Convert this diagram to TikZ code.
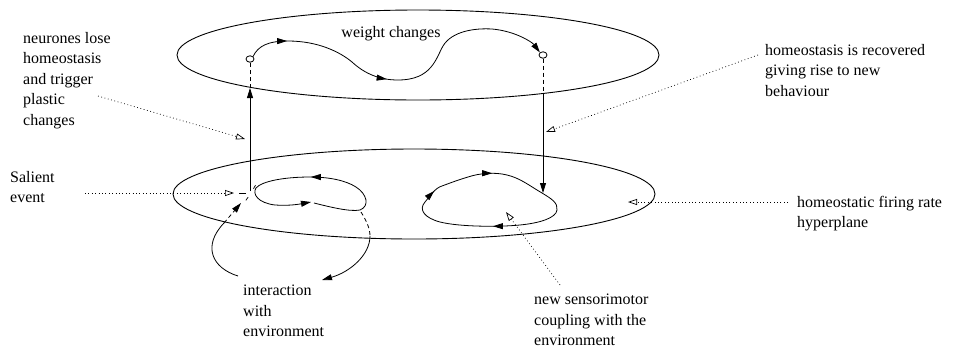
\documentclass[tikz,border=0pt]{standalone}
\usepackage{fontspec}
\setmainfont{Liberation Serif}
\usetikzlibrary{arrows.meta,positioning,decorations.markings,shapes.geometric}
\newcommand{\tipmark}{\arrow{Triangle[length=10pt,width=6pt]}}
\tikzset{
  plane/.style={draw, ellipse, line width=0.9pt, inner sep=0pt},
  flowarr/.style={-{Triangle[length=10pt,width=6pt]}, line width=0.8pt},
  hidden/.style={line width=0.8pt, dash pattern=on 4pt off 3pt},
  ptr/.style={-{Triangle[open,length=9pt,width=6pt]}, line width=0.7pt, dash pattern=on 0.8pt off 2.6pt},
  lbl/.style={font=\fontsize{16}{20.5}\selectfont, align=left, anchor=north west, inner sep=0pt},
  unit/.style={draw, ellipse, minimum width=8pt, minimum height=6.5pt, inner sep=0pt, line width=0.8pt},
}
\begin{document}
\begin{tikzpicture}[x=1pt, y=-1pt]
  \useasboundingbox (0,0) rectangle (956,349);
  % the two planes
  \node[plane, minimum width=482pt, minimum height=90pt] (upperplane) at (418,55) {};
  \node[plane, minimum width=482pt, minimum height=90pt] (lowerplane) at (414,194) {};
  \node[unit] (c1) at (250,59) {};
  \node[unit] (c2) at (543,55) {};

  % weight change trajectory
  \draw[flowarr, postaction={decorate}, decoration={markings,
      mark=at position 0.12 with {\tipmark}, mark=at position 0.45 with {\tipmark}}]
    (c1.north east) .. controls (258,46) and (268,41) .. (288,41)
    .. controls (318,41) and (340,52) .. (352,62)
    .. controls (365,74) and (380,80) .. (398,80)
    .. controls (432,80) and (436,58) .. (443,46)
    .. controls (452,31) and (475,28) .. (492,29)
    .. controls (515,31) and (532,42) .. (c2.north west);

  % vertical transitions
  \coordinate (lowL) at (250,191);
  \coordinate (upL) at (250,88);
  \coordinate (upR) at (543,93);
  \coordinate (lowR) at (543,193);
  \draw[flowarr] (lowL) -- (upL);
  \draw[hidden] (upL) -- (c1.south);
  \draw[hidden] (c2.south) -- (upR);
  \draw[flowarr] (upR) -- (lowR);

  % salient event burst
  \foreach \a/\r in {180/12, 125/9, -60/9}
    \draw[line width=0.7pt] (251,193) ++(\a:5) -- ++(\a:\r-5);

  % old coupling loop
  \draw[flowarr, postaction={decorate}, decoration={markings,
      mark=at position 0.5 with {\tipmark}}]
    (314,203) .. controls (330,207) and (350,212) .. (360,210)
    .. controls (370,206) and (367,194) .. (356,187)
    .. controls (345,180) and (328,177) .. (310,177)
    .. controls (285,177) and (262,181) .. (256,188)
    .. controls (252,194) and (258,203) .. (275,205)
    .. controls (290,206) and (300,204) .. (311,202);

  % interaction with environment
  \coordinate (envA) at (361,212);
  \coordinate (envB) at (370,236);
  \coordinate (envC) at (322,280);
  \coordinate (envD) at (238,276);
  \coordinate (envE) at (224,223);
  \coordinate (envF) at (241,203);
  \draw[hidden] (envA) .. controls (366,220) and (370,228) .. (envB);
  \draw[flowarr] (envB) .. controls (370,255) and (350,272) .. (envC);
  \draw[line width=0.8pt] (envD) .. controls (212,268) and (202,246) .. (envE);
  \draw[hidden, -{Triangle[length=10pt,width=6pt]}] (envE) -- (envF);

  % new coupling loop
  \draw[line width=0.8pt, postaction={decorate}, decoration={markings,
      mark=at position 0.08 with {\tipmark}, mark=at position 0.56 with {\tipmark},
      mark=at position 0.88 with {\tipmark}}]
    (468,177) .. controls (480,173) and (495,172) .. (507,175)
    .. controls (520,178) and (530,186) .. (542,193)
    .. controls (552,199) and (558,203) .. (557,210)
    .. controls (556,218) and (540,223) .. (520,225)
    .. controls (500,227) and (460,227) .. (440,222)
    .. controls (425,218) and (418,210) .. (425,202)
    .. controls (430,196) and (435,188) .. (442,186)
    .. controls (450,183) and (458,180) .. cycle;

  % labels
  \node[lbl, anchor=base] (wgt) at (391,37.5) {weight changes};
  \node[lbl] (lose) at (23,32) {neurones lose\\homeostasis\\and trigger\\plastic\\changes};
  \node[lbl] (salient) at (10,171) {Salient\\event};
  \node[lbl] (recov) at (765,44) {homeostasis is recovered\\giving rise to new\\behaviour};
  \node[lbl] (hyper) at (797,196) {homeostatic firing rate\\hyperplane};
  \node[lbl] (coupl) at (534,294) {new sensorimotor\\coupling with the\\environment};
  \node[lbl] (inter) at (243,285) {interaction\\with\\environment};

  % pointers
  \coordinate (loseP) at (98,96);     \coordinate (loseT) at (245,139);
  \coordinate (salP) at (85,193);     \coordinate (salT) at (234,193);
  \coordinate (recovP) at (758,55);   \coordinate (recovT) at (546,132);
  \coordinate (hyperP) at (788,202);  \coordinate (hyperT) at (628,202);
  \coordinate (couplP) at (560,285);  \coordinate (couplT) at (506,212);
  \foreach \p in {lose,sal,recov,hyper,coupl}
    \draw[ptr] (\p P) -- (\p T);
\end{tikzpicture}
\end{document}
